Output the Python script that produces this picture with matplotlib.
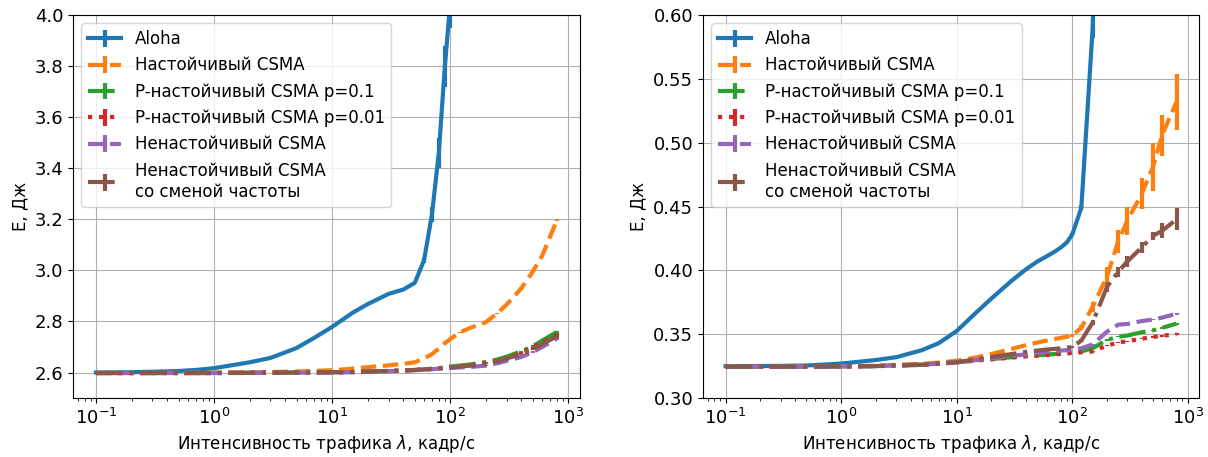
import numpy as np
import matplotlib
matplotlib.use('Agg')
from matplotlib import pyplot as plt

plt.rcParams['font.family'] = ['DejaVu Sans']
plt.rcParams['font.size'] = 12
plt.rcParams['xtick.labelsize'] = 13
plt.rcParams['ytick.labelsize'] = 13

lam = [0.1, 0.2, 0.3, 0.5, 0.7, 1, 2, 3, 5, 7, 10, 15, 20, 30, 40, 50, 60, 70, 80, 90,
       100, 120, 150, 200, 250, 300, 400, 500, 600, 800]

labels = ['Aloha', 'Настойчивый CSMA', 'P-настойчивый CSMA p=0.1',
          'P-настойчивый CSMA p=0.01', 'Ненастойчивый CSMA',
          'Ненастойчивый CSMA\nсо сменой частоты']
styles = ['-', '--', '-.', ':', '--', '-.']

# левый график
aloha_l = [2.600, 2.601, 2.603, 2.606, 2.610, 2.617, 2.640, 2.657, 2.696, 2.735,
           2.779, 2.835, 2.868, 2.908, 2.925, 2.951, 3.040, 3.220, 3.460, 3.800,
           4.050, 4.700, 5.600, 6.800, 7.900, 8.800, 10.50, 12.00, 13.40, 16.00]
persist_l = [2.598, 2.598, 2.598, 2.599, 2.599, 2.600, 2.601, 2.602, 2.604, 2.606,
             2.609, 2.615, 2.621, 2.628, 2.634, 2.640, 2.655, 2.672, 2.694, 2.715,
             2.731, 2.757, 2.776, 2.797, 2.832, 2.866, 2.930, 2.995, 3.057, 3.197]
p01_l = [2.598, 2.598, 2.598, 2.598, 2.598, 2.598, 2.599, 2.599, 2.600, 2.600,
         2.601, 2.602, 2.604, 2.606, 2.608, 2.610, 2.612, 2.615, 2.617, 2.620,
         2.623, 2.627, 2.632, 2.641, 2.651, 2.662, 2.683, 2.703, 2.725, 2.759]
p001_l = [2.598, 2.598, 2.598, 2.598, 2.598, 2.598, 2.599, 2.599, 2.600, 2.600,
          2.601, 2.602, 2.604, 2.606, 2.608, 2.610, 2.612, 2.614, 2.616, 2.619,
          2.621, 2.625, 2.629, 2.637, 2.646, 2.657, 2.677, 2.697, 2.718, 2.748]
nonp_l = [2.598, 2.598, 2.598, 2.598, 2.598, 2.598, 2.598, 2.599, 2.599, 2.600,
          2.600, 2.601, 2.603, 2.605, 2.607, 2.609, 2.611, 2.613, 2.615, 2.617,
          2.618, 2.620, 2.622, 2.627, 2.636, 2.646, 2.661, 2.680, 2.700, 2.733]
nonpfh_l = [2.598, 2.598, 2.598, 2.598, 2.598, 2.598, 2.599, 2.599, 2.600, 2.600,
            2.601, 2.602, 2.604, 2.606, 2.608, 2.610, 2.612, 2.614, 2.616, 2.618,
            2.620, 2.623, 2.627, 2.634, 2.644, 2.655, 2.672, 2.690, 2.711, 2.742]
aloha_l_err = [0, 0, 0, 0, 0, 0, 0, 0, 0, 0, 0, 0, 0, 0, 0, 0, 0.01, 0.03, 0.06, 0.08,
               0.1, 0.2, 0.3, 0.4, 0.5, 0.6, 0.8, 1.0, 1.2, 1.5]
csma_l_err = [0, 0, 0, 0, 0, 0, 0, 0, 0, 0, 0, 0, 0, 0, 0, 0, 0, 0, 0, 0,
              0, 0.001, 0.001, 0.002, 0.002, 0.002, 0.003, 0.003, 0.004, 0.005]

# правый график
aloha_r = [0.3250, 0.3251, 0.3252, 0.3255, 0.3262, 0.3270, 0.3298, 0.3320, 0.3375, 0.3430,
           0.3525, 0.3676, 0.3780, 0.3920, 0.4010, 0.4070, 0.4110, 0.4145, 0.4180, 0.4220,
           0.4280, 0.4490, 0.5880, 0.9000, 1.2000, 1.5000, 2.0000, 2.5000, 3.0000, 4.0000]
persist_r = [0.3245, 0.3245, 0.3245, 0.3246, 0.3247, 0.3249, 0.3253, 0.3260, 0.3268, 0.3278,
             0.3292, 0.3320, 0.3345, 0.3385, 0.3415, 0.3435, 0.3450, 0.3462, 0.3472, 0.3480,
             0.3490, 0.3550, 0.3715, 0.3950, 0.4227, 0.4390, 0.4600, 0.4810, 0.5060, 0.5320]
p01_r = [0.3245, 0.3245, 0.3245, 0.3245, 0.3246, 0.3247, 0.3250, 0.3255, 0.3260, 0.3268,
         0.3280, 0.3295, 0.3305, 0.3320, 0.3330, 0.3335, 0.3340, 0.3345, 0.3350, 0.3352,
         0.3355, 0.3365, 0.3390, 0.3455, 0.3480, 0.3490, 0.3515, 0.3530, 0.3550, 0.3583]
p001_r = [0.3245, 0.3245, 0.3245, 0.3245, 0.3246, 0.3247, 0.3250, 0.3255, 0.3260, 0.3268,
          0.3280, 0.3294, 0.3303, 0.3317, 0.3327, 0.3332, 0.3337, 0.3342, 0.3346, 0.3350,
          0.3353, 0.3358, 0.3365, 0.3410, 0.3435, 0.3445, 0.3465, 0.3478, 0.3488, 0.3500]
nonp_r = [0.3245, 0.3245, 0.3245, 0.3245, 0.3246, 0.3247, 0.3250, 0.3255, 0.3261, 0.3270,
          0.3282, 0.3298, 0.3310, 0.3330, 0.3343, 0.3355, 0.3362, 0.3368, 0.3372, 0.3375,
          0.3378, 0.3390, 0.3420, 0.3520, 0.3575, 0.3580, 0.3603, 0.3615, 0.3630, 0.3660]
nonpfh_r = [0.3245, 0.3245, 0.3245, 0.3246, 0.3247, 0.3248, 0.3251, 0.3255, 0.3262, 0.3270,
            0.3280, 0.3305, 0.3322, 0.3345, 0.3362, 0.3372, 0.3380, 0.3385, 0.3390, 0.3395,
            0.3400, 0.3450, 0.3590, 0.3870, 0.3990, 0.4070, 0.4180, 0.4270, 0.4310, 0.4400]
aloha_r_err = [0, 0, 0, 0, 0, 0, 0, 0, 0, 0, 0, 0, 0, 0, 0, 0, 0, 0, 0, 0,
               0.001, 0.002, 0.006, 0.02, 0.03, 0.04, 0.05, 0.06, 0.07, 0.08]
persist_r_err = [0, 0, 0, 0, 0, 0, 0, 0, 0, 0, 0, 0, 0, 0, 0, 0, 0, 0, 0, 0,
                 0.001, 0.002, 0.004, 0.008, 0.009, 0.011, 0.012, 0.019, 0.016, 0.022]
nonpfh_r_err = [0, 0, 0, 0, 0, 0, 0, 0, 0, 0, 0, 0, 0, 0, 0, 0, 0, 0, 0, 0,
                0.0005, 0.001, 0.002, 0.004, 0.004, 0.004, 0.0045, 0.003, 0.006, 0.0085]
csma_r_err = [0, 0, 0, 0, 0, 0, 0, 0, 0, 0, 0, 0, 0, 0, 0, 0, 0, 0, 0, 0,
              0, 0, 0.0003, 0.0005, 0.0005, 0.0005, 0.0006, 0.0006, 0.0007, 0.0008]

left = [(aloha_l, aloha_l_err), (persist_l, csma_l_err), (p01_l, csma_l_err),
        (p001_l, csma_l_err), (nonp_l, csma_l_err), (nonpfh_l, csma_l_err)]
right = [(aloha_r, aloha_r_err), (persist_r, persist_r_err), (p01_r, csma_r_err),
         (p001_r, csma_r_err), (nonp_r, csma_r_err), (nonpfh_r, nonpfh_r_err)]

fig = plt.figure(figsize=(12.08, 4.57), dpi=100)
ax1 = fig.add_axes([0.0604, 0.129, 0.4197, 0.838])
ax2 = fig.add_axes([0.582, 0.129, 0.4106, 0.838])

for ax, series, ylim in [(ax1, left, (2.5, 4.0)), (ax2, right, (0.3, 0.6))]:
    for (y, err), lab, ls in zip(series, labels, styles):
        ax.errorbar(lam, y, yerr=err, label=lab, linestyle=ls, linewidth=3)
    ax.set_xscale('log')
    ax.set_ylim(*ylim)
    ax.grid(True)
    ax.set_xlabel('Интенсивность трафика $\\lambda$, кадр/с')
    ax.set_ylabel('E, Дж')
    ax.legend(loc='upper left')

ax2.set_yticks([0.30, 0.35, 0.40, 0.45, 0.50, 0.55, 0.60])
ax2.yaxis.set_major_formatter(matplotlib.ticker.FormatStrFormatter('%.2f'))

plt.savefig('out.png', dpi=100)
